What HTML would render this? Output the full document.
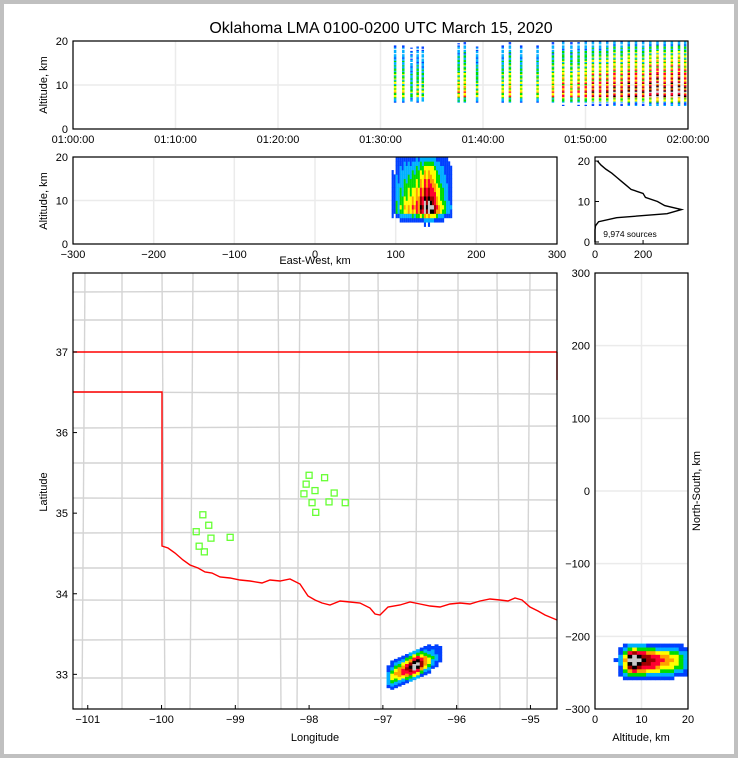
<!DOCTYPE html>
<html><head><meta charset="utf-8"><style>
body{margin:0;background:#c0c0c0;}
#wrap{position:absolute;left:4px;top:4px;width:730px;height:750px;background:#fff;}
svg{position:absolute;left:0;top:0;}
text{font-family:"Liberation Sans",sans-serif;fill:#000;}
</style></head><body>
<div id="wrap"></div>
<svg id="s" width="738" height="758"></svg>
<script>
const altBins=[0,0,0,0,2,15,90,300,360,290,260,210,200,150,130,110,90,70,45,25,10];
const times=[31.4,32.2,33.0,33.6,34.1,37.6,38.2,39.4,41.9,42.6,43.7,45.3,46.8,47.8,48.6,49.3,50.0,50.7,51.4,52.1,52.8,53.5,54.2,54.9,55.6,56.3,57.0,57.7,58.4,59.1,59.7];
const timeWeights=[0.2,0.2,0.12,0.18,0.15,0.25,0.3,0.18,0.2,0.3,0.2,0.2,0.3,0.4,0.3,0.35,0.4,0.5,0.45,0.5,0.6,0.5,0.65,0.6,0.5,0.7,0.8,0.6,0.7,0.8,0.6];
const ewStart=95, ewStep=5;
const ewBins=[5,20,35,50,60,70,90,140,200,220,160,80,40,20,8];
const nsStart=-260, nsStep=5;
const nsBins=[5,30,90,150,200,230,200,120,40,10];
const lonStart=-96.95, lonStep=0.05;
const lonBins=[15,40,60,80,100,130,170,230,210,140,80,40,20,8,4];
const latStart=33.0, latStep=0.04;
const latBins=[10,40,110,200,230,170,90,35,10];
const latTilt=0.4;
const stnLon=[-99.44,-99.36,-99.53,-99.33,-99.49,-99.42,-99.07,-98.00,-98.04,-97.79,-98.07,-97.92,-97.66,-97.96,-97.73,-97.51,-97.91];
const stnLat=[34.98,34.85,34.77,34.69,34.59,34.52,34.70,35.47,35.36,35.44,35.24,35.28,35.25,35.13,35.14,35.13,35.01];
const timeTicks=["01:00:00","01:10:00","01:20:00","01:30:00","01:40:00","01:50:00","02:00:00"];
const ewTicks=[-300,-200,-100,0,100,200,300];
const lonTicks=[-101,-100,-99,-98,-97,-96,-95];
const latTicks=[37,36,35,34,33];
const nsTicks=[300,200,100,0,-100,-200,-300];

const S=document.getElementById('s'),NS='http://www.w3.org/2000/svg';
function el(t,a,p){const e=document.createElementNS(NS,t);for(const k in a)e.setAttribute(k,a[k]);(p||S).appendChild(e);return e;}
function txt(x,y,s,anc,size,extra){const e=el('text',Object.assign({x:x,y:y,'text-anchor':anc||'middle',style:'font-size:'+(size||11)+'px'},extra||{}));e.textContent=s;return e;}
function lin(d0,d1,r0,r1){return v=>r0+(v-d0)/(d1-d0)*(r1-r0);}
const cmap=[[0.03,'#0040ff'],[0.08,'#00b0ff'],[0.15,'#00dd00'],[0.25,'#ffff00'],[0.35,'#ffa000'],[0.5,'#ff0030'],[0.65,'#a00000'],[0.8,'#000000'],[2,'#c8c8c8']];
function col(d){for(const c of cmap)if(d<c[0])return c[1];return '#c8c8c8';}
const maxAlt=Math.max(...altBins),maxEw=Math.max(...ewBins),maxNs=Math.max(...nsBins),maxLon=Math.max(...lonBins),maxLat=Math.max(...latBins);

txt(381,33,'Oklahoma LMA 0100-0200 UTC March 15, 2020','middle',16);

function frame(x0,y0,x1,y1,name){const r=el('rect',{x:x0,y:y0,width:x1-x0,height:y1-y0,fill:'none',stroke:'#000','stroke-width':1.2});}
function vgrid(x,y0,y1){el('line',{x1:x,x2:x,y1:y0,y2:y1,stroke:'#ebebeb','stroke-width':1.5});}
function hgrid(y,x0,x1){el('line',{x1:x0,x2:x1,y1:y,y2:y,stroke:'#ebebeb','stroke-width':1.5});}

// ---- Top time panel
const tx=lin(0,60,73,688), ty=lin(0,20,129,41);
for(let i=0;i<7;i++)vgrid(tx(i*10),41,129);
[0,10,20].forEach(v=>hgrid(ty(v),73,688));
const g1=el('g',{});
times.forEach((t,i)=>{for(let a=0;a<altBins.length-1;a++){for(let sub=0;sub<4;sub++){const d=timeWeights[i]*altBins[a]/maxAlt*(0.5+0.3*((sub*3)%4));if(d<0.02)continue;
const r=el('rect',{x:tx(t)-1,y:ty(a+sub*0.25+0.25),width:2.5,height:1.2,fill:col(d)},g1);}}});
frame(73,41,688,129,'time-panel-frame');
timeTicks.forEach((s,i)=>txt(tx(i*10),143,s));
[0,10,20].forEach(v=>txt(68,ty(v)+4,v,'end'));
txt(47,85,'Altitude, km','middle',11,{transform:'rotate(-90 47 85)'});

// ---- EW-alt panel
const ex=lin(-300,300,73,557), ey=lin(0,20,244,157);
for(const v of ewTicks)vgrid(ex(v),157,244);
[0,10,20].forEach(v=>hgrid(ey(v),73,557));
const g2=el('g',{});
ewBins.forEach((c,i)=>{altBins.forEach((a,j)=>{if(j>=20)return;for(let s=0;s<2;s++){const d=(c/maxEw)*(a/maxAlt)*(s?0.85:1.1);if(d<0.005)continue;
const r=el('rect',{x:ex(ewStart+i*ewStep+s*2.5),y:ey(j+1),width:2.1,height:ey(0)-ey(1)+0.3,fill:col(d)},g2);}});});
frame(73,157,557,244,'ew-panel-frame');
ewTicks.forEach(v=>txt(ex(v),258,v<0?'\u2212'+(-v):v));
[0,10,20].forEach(v=>txt(68,ey(v)+4,v,'end'));
txt(315,264,'East-West, km');
txt(47,201,'Altitude, km','middle',11,{transform:'rotate(-90 47 201)'});

// ---- histogram
const hx=lin(0,387,595,688), hy=lin(-0.5,21,244,157);
const pts=altBins.map((c,i)=>hx(c)+','+hy(i)).join(' ');
const hl=el('polyline',{points:pts,fill:'none',stroke:'#000','stroke-width':1.4});
frame(595,157,688,244,'histogram-frame');
[0,10,20].forEach(v=>{txt(590,hy(v)+4,v,'end');el('line',{x1:595,x2:599,y1:hy(v),y2:hy(v),stroke:'#000'});});
[0,200].forEach(v=>{txt(hx(v),258,v);el('line',{x1:hx(v),x2:hx(v),y1:244,y2:240,stroke:'#000'});});
txt(630,237,'9,974 sources','middle',8.5);

// ---- map
const mx=lin(-101.2,-94.64,73,557), my=lin(37.98,32.57,273,709);
const g3=el('g',{});
const cl='#d4d4d4';
const hY=[292,320,392,428,463,498,533,568,600,640,678];
hY.forEach((y,i)=>el('line',{x1:73,x2:557,y1:y,y2:y+(i%3-1)*2,stroke:cl,'stroke-width':1.4},g3));
const vX=[85,122,162,193,238,278,300,349,378,418,458,497,530];
vX.forEach((x,i)=>el('line',{x1:x,x2:x+(i%3-1)*3,y1:273,y2:709,stroke:cl,'stroke-width':1.4},g3));
const ok=[[162,546],[168,548],[175,553],[183,560],[190,565],[198,568],[205,572],[212,573],[220,577],[230,578],[240,580],[250,581],[262,583],[270,580],[280,581],[290,579],[300,584],[308,596],[315,600],[322,603],[330,605],[340,601],[350,602],[360,603],[370,608],[375,614],[380,615],[388,607],[400,605],[410,602],[420,604],[430,606],[440,607],[450,604],[460,603],[470,604],[480,601],[490,599],[500,600],[508,601],[515,598],[522,600],[530,607],[538,611],[545,615],[557,620]];
const bd=el('polyline',{points:'73,352 557,352',fill:'none',stroke:'#f00','stroke-width':1.4},g3);
const bd2=el('polyline',{points:'73,392 162,392 '+ok.map(p=>p.join(',')).join(' '),fill:'none',stroke:'#f00','stroke-width':1.4},g3);
el('line',{x1:557,x2:557,y1:352,y2:380,stroke:'#f00','stroke-width':1.4},g3);
const lonC=-96.43;
lonBins.forEach((c,i)=>{const lo=lonStart+i*lonStep;latBins.forEach((a,j)=>{const d=(c/maxLon)*(a/maxLat);if(d<0.005)return;
const la=latStart+j*latStep+latTilt*(lo-lonC);
const r=el('rect',{x:mx(lo),y:my(la+latStep),width:mx(lonStep)-mx(0)+0.3,height:my(0)-my(latStep)+0.3,fill:col(d)},g3);});});
stnLon.forEach((lo,i)=>{const r=el('rect',{x:mx(lo)-3,y:my(stnLat[i])-3,width:6,height:6,fill:'none',stroke:'#66ff33','stroke-width':1.3});});
frame(73,273,557,709,'map-frame');
lonTicks.forEach(v=>{txt(mx(v),723,'\u2212'+(-v));el('line',{x1:mx(v),x2:mx(v),y1:709,y2:705,stroke:'#000'});});
latTicks.forEach(v=>{txt(68,my(v)+4,v,'end');el('line',{x1:73,x2:77,y1:my(v),y2:my(v),stroke:'#000'});});
txt(315,741,'Longitude');
txt(47,492,'Latitude','middle',11,{transform:'rotate(-90 47 492)'});

// ---- NS-alt panel
const ax=lin(0,20,595,688), ay=lin(-300,300,709,273);
[0,10,20].forEach(v=>vgrid(ax(v),273,709));
nsTicks.forEach(v=>hgrid(ay(v),595,688));
const g4=el('g',{});
altBins.forEach((a,j)=>{if(j>=20)return;nsBins.forEach((c,i)=>{const d=(c/maxNs)*(a/maxAlt);if(d<0.005)return;
const r=el('rect',{x:ax(j),y:ay(nsStart+(i+1)*nsStep),width:ax(1)-ax(0)+0.3,height:ay(0)-ay(nsStep)+0.3,fill:col(d)},g4);});});
frame(595,273,688,709,'ns-panel-frame');
nsTicks.forEach(v=>txt(590,ay(v)+4,v<0?'\u2212'+(-v):v,'end'));
[0,10,20].forEach(v=>txt(ax(v),723,v));
txt(641,741,'Altitude, km');
txt(700,491,'North-South, km','middle',11,{transform:'rotate(-90 700 491)'});
</script></body></html>
